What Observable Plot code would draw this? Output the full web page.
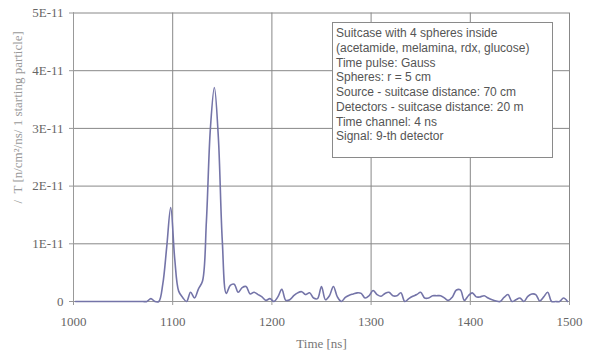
<!DOCTYPE html>
<html>
<head>
<meta charset="utf-8">
<script src="https://cdn.jsdelivr.net/npm/d3@7"></script>
<script src="https://cdn.jsdelivr.net/npm/@observablehq/plot@0.6"></script>
<style>
  html, body { margin: 0; padding: 0; background: #fff; }
  #wrap { position: relative; width: 592px; height: 352px; }
  #wrap svg, #wrap svg g, #wrap svg text { font-family: "Liberation Serif", "Times New Roman", serif !important; }
  #legend {
    position: absolute; left: 332px; top: 22px; width: 221px; height: 136px;
    border: 1px solid #8a8a8a; background: #fff; box-sizing: border-box;
    font-family: "Liberation Sans", Arial, sans-serif; font-size: 12px; color: #555;
    line-height: 14.75px; padding: 3px 0 0 3px; white-space: nowrap;
  }
</style>
</head>
<body>
<div id="wrap"></div>
<script>
// Time channel centres [ns] (4 ns channels)
const times = d3.range(1002, 1500, 4);
// Signal values in units of 1E-11 n/cm²/ns/1 starting particle
const signal = [
  // 1002 - 1070
  0,0,0,0,0,0,0,0,0,0,0,0,0,0,0,0,0,0,
  // 1074 - 1146
  0,0.05,0,0,0.3,0.95,1.63,0.75,0.18,0.07,0,0.16,0.06,0.22,0.35,1.4,3.0,3.71,2.85,
  // 1150 - 1198
  1.05,0.14,0.28,0.3,0.16,0.24,0.26,0.13,0.16,0.12,0.08,0.02,0.05,
  // 1202 - 1298
  0,0.08,0.21,0.02,0.03,0.1,0.15,0.17,0.12,0.15,0.06,0.05,0.26,0.03,0.1,0.26,0.08,0,0.07,0.11,0.13,0.15,0.14,0.06,0.1,
  // 1302 - 1398
  0.19,0.12,0.09,0.14,0.16,0.1,0.1,0.15,0,0.05,0.09,0.12,0.16,0.06,0.06,0.1,0.1,0.1,0.06,0.02,0.08,0.2,0.2,0.02,0.1,
  // 1402 - 1498
  0.15,0.08,0.08,0.1,0.06,0.03,0.01,0,0.07,0.12,0,0.03,0.06,0,0.09,0.13,0.12,0.01,0.08,0.16,0,0,0,0.06,0
];
const xTicks = [1000, 1100, 1200, 1300, 1400, 1500];
const yTicks = [0, 1, 2, 3, 4, 5];
const yTickLabels = ["0", "1E-11", "2E-11", "3E-11", "4E-11", "5E-11"];
const legendLines = [
  "Suitcase with 4 spheres inside",
  "(acetamide, melamina, rdx, glucose)",
  "Time pulse: Gauss",
  "Spheres: r = 5 cm",
  "Source - suitcase distance: 70 cm",
  "Detectors - suitcase distance: 20 m",
  "Time channel: 4 ns",
  "Signal: 9-th detector"
];
const xLabel = "Time [ns]";
const yLabel = "/  T [n/cm\u00B2/ns/ 1 starting particle]";

const data = times.map((t, i) => ({t, v: signal[i]}));

const serif = "'Liberation Serif', 'Times New Roman', serif";

const chart = Plot.plot({
  width: 592,
  height: 352,
  marginLeft: 73,
  marginRight: 23,
  marginTop: 12.5,
  marginBottom: 51,
  style: {fontFamily: serif, fontSize: "13px", color: "#666", background: "#fff"},
  x: {domain: [1000, 1500], label: null},
  y: {domain: [0, 5], label: null},
  marks: [
    Plot.gridX(xTicks, {stroke: "#888", strokeOpacity: 1}),
    Plot.gridY(yTicks, {stroke: "#888", strokeOpacity: 1}),
    Plot.ruleX([1000], {stroke: "#999"}),
    Plot.ruleY([0], {stroke: "#999"}),
    Plot.axisX({ticks: xTicks, tickFormat: d => String(d), tickSize: 4, tickPadding: 11, stroke: "#999", fill: "#666", fontSize: 13, label: null}),
    Plot.axisY({ticks: yTicks, tickFormat: d => yTickLabels[yTicks.indexOf(d)], tickSize: 4, tickPadding: 6, stroke: "#999", fill: "#666", fontSize: 13, label: null}),
    Plot.line(data, {x: "t", y: "v", stroke: "#7474a8", strokeWidth: 1.6, curve: "catmull-rom"}),
    Plot.text([xLabel], {frameAnchor: "bottom", dy: 42, fill: "#777", fontSize: 13, lineAnchor: "middle"}),
    Plot.text([yLabel], {frameAnchor: "left", rotate: -90, dx: -56, dy: -40, fill: "#999", fontSize: 13, textAnchor: "middle"})
  ]
});

const wrap = document.getElementById("wrap");
wrap.appendChild(chart);
const legend = document.createElement("div");
legend.id = "legend";
legend.innerHTML = legendLines.map(s => `<div>${s}</div>`).join("");
wrap.appendChild(legend);
</script>
</body>
</html>
